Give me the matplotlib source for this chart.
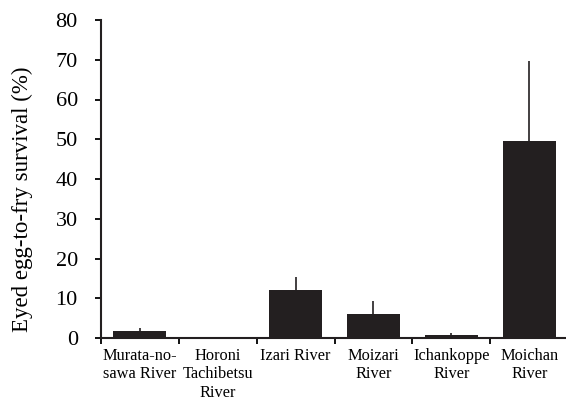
import matplotlib
matplotlib.use("Agg")
import matplotlib.pyplot as plt
import numpy as np

categories = ["Murata-no-\nsawa River", "Horoni\nTachibetsu\nRiver", "Izari River",
              "Moizari\nRiver", "Ichankoppe\nRiver", "Moichan\nRiver"]
survival = [1.8, 0.0, 12.1, 6.0, 0.8, 49.6]
upper_err = [0.6, 0.0, 3.3, 3.3, 0.4, 20.1]
yticks = [0, 10, 20, 30, 40, 50, 60, 70, 80]

plt.rcParams['font.family'] = ['Liberation Serif', 'DejaVu Serif']

fig = plt.figure(figsize=(5.66, 4.01), dpi=100)
ax = fig.add_axes([100.7/566, 1-338/401, (566-100.7)/566, (338-20)/401])

x = np.arange(len(categories))
ax.bar(x, survival, width=0.68, color="#231f20", zorder=2)
ax.errorbar(x, survival, yerr=[np.zeros(len(x)), upper_err], fmt="none",
            ecolor="#231f20", elinewidth=1.2, capsize=0, zorder=1)

ax.set_xlim(-0.5, 5.47)
ax.set_ylim(0, 80)
ax.set_yticks(yticks)
ax.set_yticklabels([str(t) for t in yticks], fontsize=16)
ax.set_xticks(x)
ax.set_xticklabels(categories, fontsize=11.8, linespacing=1.22)
ax.tick_params(axis='x', which='major', length=0, pad=7)
ax.set_xticks(np.arange(-0.5, 5.0, 1.0), minor=True)
ax.tick_params(axis='x', which='minor', length=4.5, width=1.3, direction='out')
ax.tick_params(axis='y', length=4.5, width=1.3, direction='out', pad=12)

for s in ["top", "right"]:
    ax.spines[s].set_visible(False)
for s in ["left", "bottom"]:
    ax.spines[s].set_linewidth(1.5)
    ax.spines[s].set_color("#231f20")

ax.set_ylabel("Eyed egg-to-fry survival (%)", fontsize=16.5)
ax.yaxis.label.set_va('center')
ax.yaxis.set_label_coords((22 - 100.7) / 465.3, (338 - 199) / 318)

fig.savefig("out.png", dpi=100)
